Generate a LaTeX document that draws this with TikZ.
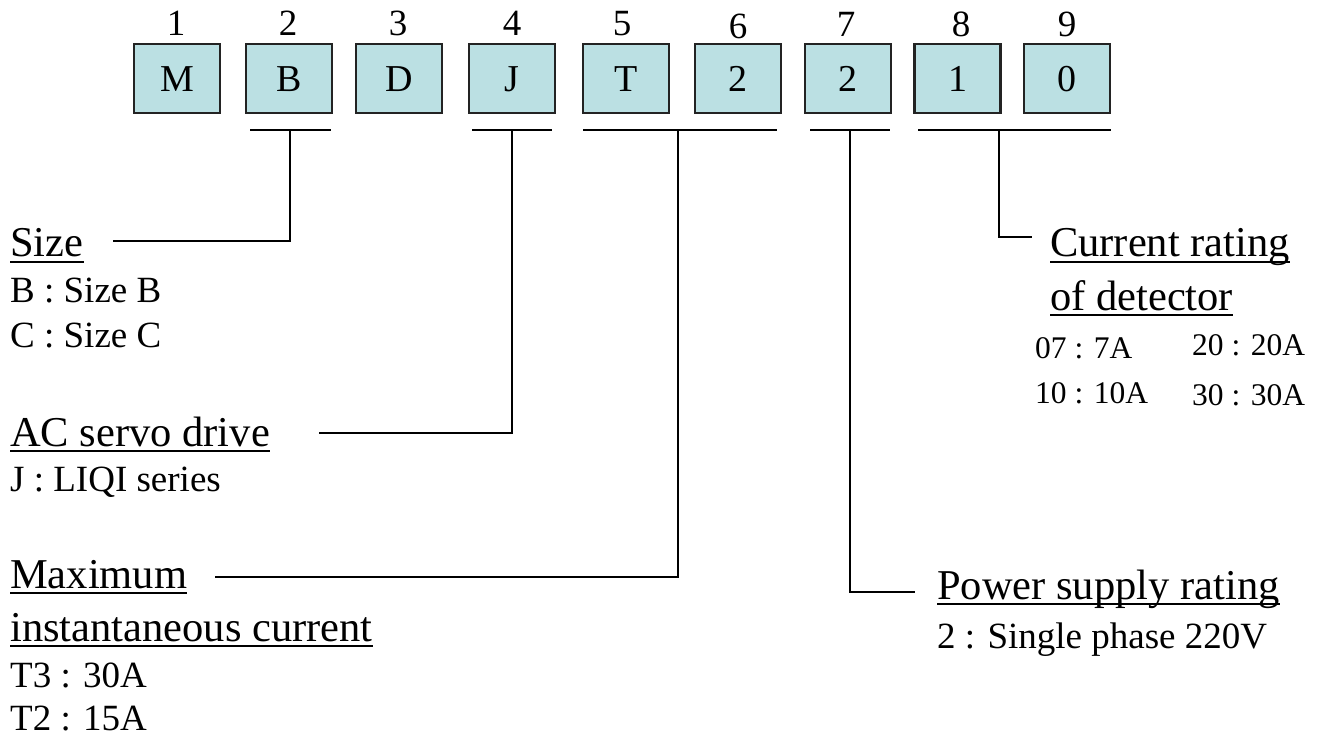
\documentclass[tikz,border=0pt]{standalone}
\usepackage{fontspec}
\setmainfont{Liberation Serif}
\definecolor{boxfill}{RGB}{187,224,227}
\definecolor{boxline}{RGB}{35,35,35}
\begin{document}
\begin{tikzpicture}[x=1pt,y=-1pt,
  digitbox/.style={draw=boxline,fill=boxfill,line width=2.6pt,minimum width=86pt,minimum height=69pt,inner sep=0pt,
    font=\fontsize{38}{40}\selectfont,text height=27pt,text depth=0pt},
  digitnum/.style={anchor=base,inner sep=0pt,font=\fontsize{37}{40}\selectfont},
  heading/.style={anchor=base west,inner sep=0pt,font=\fontsize{42.5}{48}\selectfont},
  subtext/.style={anchor=base west,inner sep=0pt,font=\fontsize{37}{42}\selectfont},
  smalltext/.style={anchor=base west,inner sep=0pt,font=\fontsize{31.5}{36}\selectfont},
  conn/.style={line width=2.2pt,black},
  uline/.style={line width=2.2pt,black}]
\useasboundingbox (0,0) rectangle (1318,738);
% boxes
\node[digitbox] (b1) at (177,78.5) {M};
\node[digitbox] (b2) at (289,78.5) {B};
\node[digitbox] (b3) at (399,78.5) {D};
\node[digitbox] (b4) at (512,78.5) {J};
\node[digitbox] (b5) at (626,78.5) {T};
\node[digitbox] (b6) at (738,78.5) {2};
\node[digitbox] (b7) at (848,78.5) {2};
\node[digitbox] (b8) at (957.5,78.5) {1};
\node[digitbox] (b9) at (1067,78.5) {0};
% numbers
\node[digitnum] (n1) at (176,36) {1};
\node[digitnum] (n2) at (288,36) {2};
\node[digitnum] (n3) at (398,36) {3};
\node[digitnum] (n4) at (512,36) {4};
\node[digitnum] (n5) at (622,36) {5};
\node[digitnum] (n6) at (738,39) {6};
\node[digitnum] (n7) at (846,37) {7};
\node[digitnum] (n8) at (961,37) {8};
\node[digitnum] (n9) at (1067,37) {9};
% bracket coordinates
\coordinate (kB) at (290,130);
\coordinate (kJ) at (512,130);
\coordinate (kT) at (678,130);
\coordinate (kP) at (850,130);
\coordinate (kC) at (999,130);
\draw[conn] (250,130) -- (331,130);
\draw[conn] (472,130) -- (552,130);
\draw[conn] (583,130) -- (777,130);
\draw[conn] (810,130) -- (890,130);
\draw[conn] (918,130) -- (1111,130);
% line ends
\coordinate (eB) at (113,241);
\coordinate (eJ) at (319,433);
\coordinate (eT) at (215,577);
\coordinate (eP) at (915,592);
\coordinate (eC) at (1032,237);
\draw[conn] (kB) |- (eB);
\draw[conn] (kJ) |- (eJ);
\draw[conn] (kT) |- (eT);
\draw[conn] (kP) |- (eP);
\draw[conn] (kC) |- (eC);
% Size
\node[heading] (hsize) at (10,257) {Size};
\draw[uline] ([yshift=-5pt]hsize.base west) -- ([yshift=-5pt]hsize.base east);
\node[subtext] (sB) at (10,302) {B : Size B};
\node[subtext] (sC) at (10,347) {C : Size C};
% AC servo drive
\node[heading] (hac) at (10,446) {AC servo drive};
\draw[uline] ([yshift=-5pt]hac.base west) -- ([yshift=-5pt]hac.base east);
\node[subtext] (sJ) at (10,491) {J : LIQI series};
% Maximum
\node[heading] (hmax) at (10,588) {Maximum};
\draw[uline] ([yshift=-5pt]hmax.base west) -- ([yshift=-5pt]hmax.base east);
\node[heading] (hinst) at (10,641) {instantaneous current};
\draw[uline] ([yshift=-5pt]hinst.base west) -- ([yshift=-5pt]hinst.base east);
\node[subtext] (sT3) at (10,687) {T3 : 30A};
\node[subtext] (sT2) at (10,730) {T2 : 15A};
% Power supply
\node[heading] (hpow) at (937,599) {Power supply rating};
\draw[uline] ([yshift=-5pt]hpow.base west) -- ([yshift=-5pt]hpow.base east);
\node[subtext] (s2) at (937,648) {2 : Single phase 220V};
% Current rating
\node[heading] (hcur) at (1050,257) {Current rating};
\draw[uline] ([yshift=-5pt]hcur.base west) -- ([yshift=-5pt]hcur.base east);
\node[heading] (hdet) at (1050,310) {of detector};
\draw[uline] ([yshift=-5pt]hdet.base west) -- ([yshift=-5pt]hdet.base east);
\node[smalltext] (d07) at (1035,358) {07 : 7A};
\node[smalltext] (d20) at (1192,355) {20 : 20A};
\node[smalltext] (d10) at (1035,403) {10 : 10A};
\node[smalltext] (d30) at (1192,405) {30 : 30A};
\end{tikzpicture}
\end{document}
